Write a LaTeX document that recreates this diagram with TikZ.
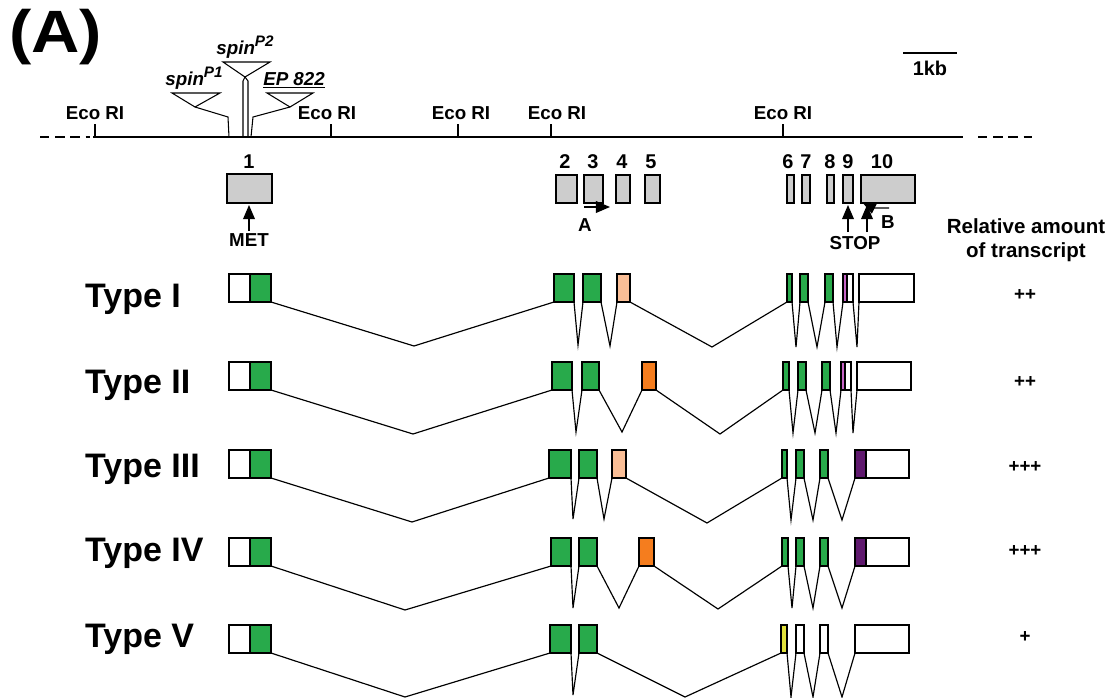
\documentclass[tikz,border=0pt]{standalone}
\usepackage{fontspec}
\setmainfont{Liberation Sans}
\usetikzlibrary{arrows.meta}
\definecolor{grn}{RGB}{40,170,75}
\definecolor{peach}{RGB}{250,190,150}
\definecolor{orng}{RGB}{245,125,30}
\definecolor{mag}{RGB}{200,100,200}
\definecolor{purp}{RGB}{95,25,110}
\definecolor{yel}{RGB}{225,225,60}
\definecolor{gry}{RGB}{205,205,205}
\tikzset{
  ebox/.style={draw, line width=0.9pt, rectangle, inner sep=0pt, outer sep=0pt},
  intron/.style={line width=1pt},
  lab/.style={font=\bfseries\fontsize{16}{19}\selectfont, inner sep=0pt},
  typelab/.style={font=\bfseries\fontsize{29}{32}\selectfont, anchor=base west, inner sep=0pt},
  arr/.style={line width=1.1pt, -{Triangle[length=12pt,width=10pt]}},
  ins/.style={line width=0.9pt},
  insl/.style={font=\bfseries\itshape\fontsize{16}{19}\selectfont, inner sep=0pt},
}
\newcommand\ex[6]{\node[ebox,fill=#6,minimum width={(#3-#2)*0.03cm},minimum height={(#5-#4)*0.03cm}] (#1) at ({(#2+#3)/2},{(#4+#5)/2}) {};}
\newcommand\intr[4]{\draw[intron] (#1.south east) -- (#3,#4) -- (#2.south west);}
\newcommand\supp[1]{\raisebox{0.42em}{\fontsize{13}{14}\selectfont #1}}
\begin{document}
\begin{tikzpicture}[x=0.03cm,y=-0.03cm]
\useasboundingbox (0,0) rectangle (1115,698);
% panel label
\node[font=\bfseries\fontsize{51}{54}\selectfont, anchor=west, inner sep=0pt, xscale=1.12] (panel) at (9,37) {(A)};
% scale bar
\coordinate (sb1) at (903,53); \coordinate (sb2) at (957,53);
\draw[line width=1.3pt] (sb1) -- (sb2);
\node[lab, font=\bfseries\fontsize{17}{19}\selectfont] (kb) at (930,68) {1kb};
% genomic line
\coordinate (gL) at (93,137); \coordinate (gR) at (963,137);
\coordinate (dL1) at (40,137); \coordinate (dL2) at (90,137);
\coordinate (dR1) at (978,137); \coordinate (dR2) at (1032,137);
\draw[line width=1.6pt] (gL) -- (gR);
\draw[line width=1.6pt, dash pattern=on 8pt off 5pt] (dL1) -- (dL2);
\draw[line width=1.6pt, dash pattern=on 8pt off 5pt] (dR1) -- (dR2);
% Eco RI sites
\foreach \t/\xt/\xl in {e1/95/95, e2/331/327, e3/458/461, e4/551/557, e5/783/783}{
  \draw[line width=1.3pt] (\xt,124) -- (\xt,137);
  \node[lab] (eco\t) at (\xl,113) {Eco RI};
}
% insertions
\draw[ins] (172,93) -- (220,93) -- (195,107) -- cycle;
\draw[ins] (195,107) -- (228,117) -- (229,137);
\draw[ins] (223,62) -- (270,62) -- (245,77) -- cycle;
\draw[ins] (245,77) -- (243,81) -- (243,137);
\draw[ins] (245,77) -- (248,81) -- (248,137);
\draw[ins] (267,93) -- (313,93) -- (290,107) -- cycle;
\draw[ins] (290,107) -- (253,117) -- (251,137);
\node[insl] (p1) at (194,78) {spin\supp{P1}};
\node[insl] (p2) at (245,47) {spin\supp{P2}};
\node[insl] (ep) at (294,80) {\underline{EP 822}};
% exon map
\ex{g1}{227}{272}{174}{203}{gry}
\ex{g2}{556}{577}{175}{203}{gry}
\ex{g3}{584}{603}{175}{203}{gry}
\ex{g4}{616}{630}{175}{203}{gry}
\ex{g5}{645}{660}{175}{203}{gry}
\ex{g6}{787}{794}{175}{203}{gry}
\ex{g7}{802}{810}{175}{203}{gry}
\ex{g8}{827}{834}{175}{203}{gry}
\ex{g9}{843}{853}{175}{203}{gry}
\ex{g10}{861}{915}{175}{203}{gry}
\foreach \n/\xx in {1/249,2/565,3/593,4/622,5/651,6/788,7/806,8/830,9/848,10/882}{
  \node[lab, font=\bfseries\fontsize{17}{19}\selectfont] (n\n) at (\xx,162) {\n};
}
% MET
\node[lab] (met) at (249,240) {MET};
\draw[arr] (249,231) -- (249,205);
% primer A
\node[lab] (pA) at (585,225) {A};
\coordinate (a1) at (584,207); \coordinate (a2) at (610,207);
\draw[arr] (a1) -- (a2);
% STOP and B
\node[lab] (stop) at (855,243) {STOP};
\draw[arr] (848,232) -- (848,205);
\draw[arr] (867,232) -- (867,205);
\node[lab] (pB) at (888,222) {B};
\draw[arr] (889,208) -- (874,208) -- (862,202);
% right header
\node[lab, align=center, font=\bfseries\fontsize{17.5}{20}\selectfont] (rel) at (1026,240) {Relative amount\\of transcript};
% ---------- Type I ----------
\node[typelab] (t1) at (85,307) {Type I};
\ex{a1w}{229}{250}{274}{302}{white}\ex{a1g}{250}{271}{274}{302}{grn}
\ex{a2}{554}{574}{274}{302}{grn}\ex{a3}{583}{601}{274}{302}{grn}\ex{a4}{617}{630}{274}{302}{peach}
\ex{a6}{787}{792}{274}{302}{grn}\ex{a7}{800}{808}{274}{302}{grn}\ex{a8}{825}{833}{274}{302}{grn}
\ex{a9m}{843}{847}{274}{302}{mag}\ex{a9w}{847}{853}{274}{302}{white}\ex{a10}{859}{914}{274}{302}{white}
\intr{a1g}{a2}{414}{346}\intr{a2}{a3}{578}{345}\intr{a3}{a4}{610}{346}\intr{a4}{a6}{712}{347}
\intr{a6}{a7}{796}{347}\intr{a7}{a8}{817}{347}\intr{a8}{a9m}{837}{347}\intr{a9w}{a10}{857}{347}
\node[lab] (r1) at (1025,295) {++};
% ---------- Type II ----------
\node[typelab] (t2) at (85,393) {Type II};
\ex{b1w}{229}{250}{362}{390}{white}\ex{b1g}{250}{271}{362}{390}{grn}
\ex{b2}{552}{572}{362}{390}{grn}\ex{b3}{582}{599}{362}{390}{grn}\ex{b5}{642}{656}{362}{390}{orng}
\ex{b6}{783}{789}{362}{390}{grn}\ex{b7}{798}{806}{362}{390}{grn}\ex{b8}{822}{830}{362}{390}{grn}
\ex{b9m}{841}{845}{362}{390}{mag}\ex{b9w}{845}{851}{362}{390}{white}\ex{b10}{857}{911}{362}{390}{white}
\intr{b1g}{b2}{413}{434}\intr{b2}{b3}{576}{432}\intr{b3}{b5}{622}{432}\intr{b5}{b6}{720}{434}
\intr{b6}{b7}{793}{433}\intr{b7}{b8}{815}{433}\intr{b8}{b9m}{836}{433}\intr{b9w}{b10}{853}{433}
\node[lab] (r2) at (1025,382) {++};
% ---------- Type III ----------
\node[typelab] (t3) at (85,477) {Type III};
\ex{c1w}{229}{250}{450}{478}{white}\ex{c1g}{250}{271}{450}{478}{grn}
\ex{c2}{549}{571}{450}{478}{grn}\ex{c3}{579}{597}{450}{478}{grn}\ex{c4}{612}{626}{450}{478}{peach}
\ex{c6}{782}{787}{450}{478}{grn}\ex{c7}{796}{804}{450}{478}{grn}\ex{c8}{820}{828}{450}{478}{grn}
\ex{c10p}{855}{866}{450}{478}{purp}\ex{c10w}{866}{909}{450}{478}{white}
\intr{c1g}{c2}{412}{522}\intr{c2}{c3}{573}{519}\intr{c3}{c4}{604}{519}\intr{c4}{c6}{707}{523}
\intr{c6}{c7}{791}{520}\intr{c7}{c8}{813}{520}\intr{c8}{c10p}{842}{520}
\node[lab] (r3) at (1025,467) {+++};
% ---------- Type IV ----------
\node[typelab] (t4) at (85,561) {Type IV};
\ex{d1w}{229}{250}{538}{566}{white}\ex{d1g}{250}{271}{538}{566}{grn}
\ex{d2}{551}{571}{538}{566}{grn}\ex{d3}{579}{597}{538}{566}{grn}\ex{d5}{639}{654}{538}{566}{orng}
\ex{d6}{782}{788}{538}{566}{grn}\ex{d7}{796}{804}{538}{566}{grn}\ex{d8}{820}{828}{538}{566}{grn}
\ex{d10p}{855}{866}{538}{566}{purp}\ex{d10w}{866}{909}{538}{566}{white}
\intr{d1g}{d2}{405}{610}\intr{d2}{d3}{573}{608}\intr{d3}{d5}{619}{608}\intr{d5}{d6}{718}{609}
\intr{d6}{d7}{792}{608}\intr{d7}{d8}{813}{608}\intr{d8}{d10p}{842}{608}
\node[lab] (r4) at (1025,551) {+++};
% ---------- Type V ----------
\node[typelab] (t5) at (85,647) {Type V};
\ex{f1w}{229}{250}{625}{653}{white}\ex{f1g}{250}{271}{625}{653}{grn}
\ex{f2}{550}{571}{625}{653}{grn}\ex{f3}{579}{597}{625}{653}{grn}
\ex{f6}{781}{787}{625}{653}{yel}\ex{f7}{796}{804}{625}{653}{white}\ex{f8}{820}{828}{625}{653}{white}
\ex{f10}{855}{909}{625}{653}{white}
\intr{f1g}{f2}{405}{697}\intr{f2}{f3}{573}{695}\intr{f3}{f6}{685}{697}
\intr{f6}{f7}{791}{697}\intr{f7}{f8}{813}{697}\intr{f8}{f10}{842}{697}
\node[lab] (r5) at (1025,637) {+};
\end{tikzpicture}
\end{document}
